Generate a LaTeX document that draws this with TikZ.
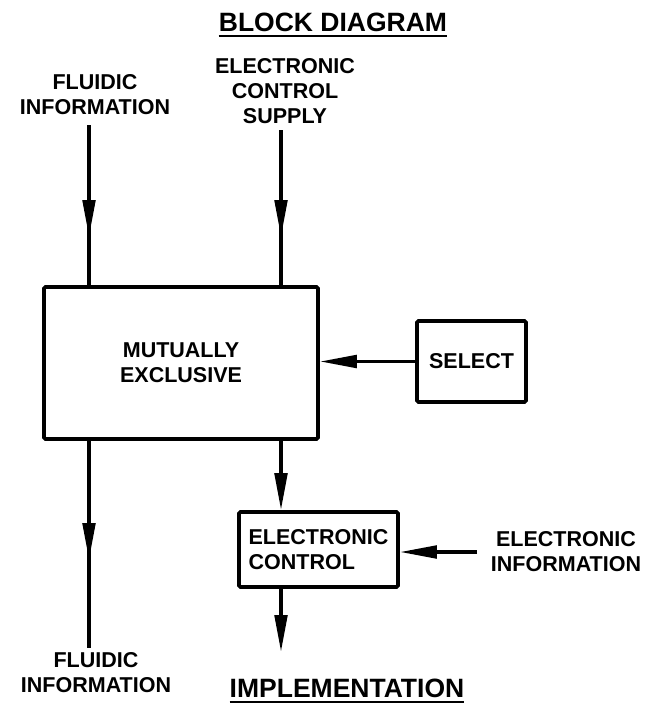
\documentclass[tikz,border=0pt]{standalone}
\usepackage{fontspec}
\setmainfont{Liberation Sans}
\usetikzlibrary{arrows.meta}
\tikzset{
  lbl/.style={font=\bfseries\fontsize{21.5}{25}\selectfont, align=center, inner sep=0pt},
  ttl/.style={font=\bfseries\fontsize{26.5}{30}\selectfont, inner sep=0pt},
  blk/.style={draw, line width=3.6pt, rounded corners=1.5pt, inner sep=0pt, font=\bfseries\fontsize{21.5}{25}\selectfont},
  wire/.style={line width=3.6pt},
  tip/.style={line width=3.6pt, -{Triangle[length=37pt,width=12.5pt]}},
}
\begin{document}
\begin{tikzpicture}[x=1pt,y=-1pt]
\useasboundingbox (0,0) rectangle (651,710);
% titles
\node[ttl] (title) at (333,22) {BLOCK DIAGRAM};
\draw[line width=2pt] ([yshift=-4pt]title.south west) -- ([yshift=-4pt]title.south east);
\node[ttl] (impl) at (347,688) {IMPLEMENTATION};
\draw[line width=2pt] ([yshift=-4pt]impl.south west) -- ([yshift=-4pt]impl.south east);
% labels
\node[lbl] (fin) at (95,95) {FLUIDIC\\INFORMATION};
\node[lbl] (ecs) at (285,91) {ELECTRONIC\\CONTROL\\SUPPLY};
\node[lbl] (fout) at (96,673) {FLUIDIC\\INFORMATION};
\node[lbl] (ei) at (566,552) {ELECTRONIC\\INFORMATION};
% blocks
\node[blk, minimum width=274pt, minimum height=152pt, align=center] (main) at (181,363) {MUTUALLY\\EXCLUSIVE};
\node[blk, minimum width=109pt, minimum height=81pt] (sel) at (471.5,361.5) {SELECT};
\node[blk, minimum width=159pt, minimum height=75pt, align=left] (ec) at (318.5,549.5) {ELECTRONIC\\CONTROL};
% connector coordinates
\coordinate (a1) at (89,125);
\coordinate (a1t) at (89,237);
\coordinate (a2) at (281,130);
\coordinate (a2t) at (281,237);
\coordinate (b1t) at (89,560);
\coordinate (b1e) at (89,648);
\coordinate (ein) at (477,552);
\coordinate (ecout) at (281,652);
% connectors
\draw[wire] (a1) -- (a1 |- main.north);
\draw[tip] (a1) -- (a1t);
\draw[wire] (a2) -- (a2 |- main.north);
\draw[tip] (a2) -- (a2t);
\draw[tip] (sel.west) -- (sel.west -| main.east);
\draw[tip] (a2 |- main.south) -- (a2 |- ec.north);
\draw[tip] (ein) -- (ein -| ec.east);
\draw[tip] (a2 |- ec.south) -- (ecout);
\draw[wire] (a1 |- main.south) -- (b1e);
\draw[tip] (a1 |- main.south) -- (b1t);
\end{tikzpicture}
\end{document}
